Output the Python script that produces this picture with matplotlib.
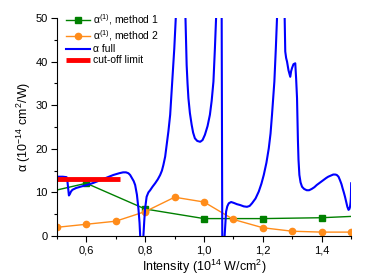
import numpy as np
import matplotlib
matplotlib.use("Agg")
import matplotlib.pyplot as plt
from matplotlib.ticker import MultipleLocator, FuncFormatter

plt.rcParams['font.family'] = ['Liberation Sans', 'DejaVu Sans']
plt.rcParams['mathtext.fontset'] = 'custom'
plt.rcParams['mathtext.rm'] = 'Liberation Sans'
plt.rcParams['mathtext.it'] = 'Liberation Sans:italic'

# method 1 (green squares)
m1_x = [0.4, 0.6, 0.8, 1.0, 1.2, 1.4, 1.6]
m1_y = [9.0, 12.1, 6.2, 4.0, 4.0, 4.2, 4.8]

# method 2 (orange circles)
m2_x = [0.5, 0.6, 0.7, 0.8, 0.9, 1.0, 1.1, 1.2, 1.3, 1.4, 1.5]
m2_y = [2.0, 2.7, 3.4, 5.6, 8.9, 7.8, 3.8, 1.9, 1.1, 0.9, 0.9]

# full alpha (blue); values beyond the axis run off-chart
full_x = [0.500, 0.520, 0.533, 0.536, 0.539, 0.541, 0.544, 0.548, 0.553, 0.565,
          0.580, 0.602, 0.625, 0.647, 0.670, 0.692, 0.712, 0.725, 0.735, 0.743,
          0.749, 0.755, 0.761, 0.766, 0.772, 0.777, 0.781, 0.783, 0.786,
          0.791, 0.794, 0.797, 0.800, 0.805, 0.811, 0.817, 0.825, 0.834, 0.843,
          0.851, 0.857, 0.862, 0.868, 0.873, 0.879, 0.885, 0.892, 0.899, 0.904,
          0.907,
          0.934, 0.937, 0.941, 0.944, 0.947, 0.952, 0.958, 0.963, 0.969, 0.977,
          0.987, 0.995, 1.003, 1.012, 1.020, 1.026, 1.032, 1.037, 1.041, 1.043,
          1.059, 1.060, 1.062, 1.064, 1.068, 1.070, 1.073, 1.075, 1.079, 1.084,
          1.092, 1.101, 1.112, 1.123, 1.135, 1.146, 1.155, 1.163, 1.175, 1.186,
          1.195, 1.203, 1.212, 1.220, 1.226, 1.231, 1.239, 1.244, 1.248, 1.250,
          1.273, 1.274, 1.276, 1.279, 1.282, 1.287, 1.293, 1.296, 1.299, 1.304,
          1.310, 1.313, 1.316, 1.319, 1.321, 1.324, 1.328, 1.333, 1.340, 1.349,
          1.357, 1.366, 1.375, 1.383, 1.395, 1.405, 1.415, 1.422, 1.432, 1.439,
          1.446, 1.451, 1.457, 1.462, 1.467, 1.471, 1.475, 1.479, 1.483, 1.487,
          1.491, 1.494, 1.496, 1.498, 1.499, 1.500]
full_y = [13.6, 13.6, 13.5, 12.5, 10.5, 9.3, 9.6, 10.2, 10.6, 11.0,
          11.3, 11.7, 12.2, 12.8, 13.4, 14.0, 14.4, 14.6, 14.6, 14.4,
          14.0, 13.3, 12.6, 11.7, 9.5, 6.4, 3.0, 0.2, -5.0,
          -5.0, 0.0, 3.5, 6.4, 9.0, 10.0, 10.5, 11.3, 12.1, 13.0,
          14.0, 15.0, 16.3, 18.2, 20.9, 24.0, 27.8, 35.4, 43.0, 49.9,
          60.0,
          60.0, 50.0, 39.2, 35.0, 31.6, 28.2, 25.5, 23.7, 22.4, 21.8,
          21.6, 22.0, 23.2, 25.2, 27.8, 31.0, 35.4, 43.0, 50.0, 60.0,
          60.0, 50.0, 0.0, -5.0, -5.0, 0.0, 3.5, 5.6, 6.8, 7.5,
          7.8, 7.6, 7.3, 7.1, 6.8, 6.7, 6.9, 7.5, 8.6, 10.2,
          12.0, 14.0, 16.8, 20.1, 23.5, 27.8, 35.4, 43.0, 50.0, 60.0,
          60.0, 50.0, 42.3, 40.8, 40.0, 38.0, 36.5, 37.8, 38.5, 39.4,
          39.6, 36.0, 31.6, 22.0, 17.5, 14.0, 12.3, 11.3, 10.8, 10.5,
          10.5, 10.8, 11.2, 11.7, 12.3, 12.8, 13.3, 13.6, 13.9, 14.1,
          14.1, 14.0, 13.6, 12.8, 11.9, 10.9, 10.0, 9.0, 7.8, 6.7,
          6.0, 6.2, 6.7, 7.8, 9.0, 12.1]

# cut-off limit (red)
cut_x = [0.5, 0.715]
cut_y = [13.0, 13.0]

fig = plt.figure(figsize=(3.74, 2.8), dpi=100)
ax = fig.add_axes([0.152, 0.157, 0.787, 0.779])

ax.plot(m1_x, m1_y, color='#008000', lw=1.0, marker='s', ms=4, label=r'α$^{(1)}$, method 1')
ax.plot(m2_x, m2_y, color='#ff8c1a', lw=1.0, marker='o', ms=4.5, label=r'α$^{(1)}$, method 2')
ax.plot(full_x, full_y, color='#0000ff', lw=1.5, solid_joinstyle='round', label='α full')
ax.plot(cut_x, cut_y, color='#ff0000', lw=3.5, label='cut-off limit', solid_capstyle='butt')

ax.set_xlim(0.5, 1.5)
ax.set_ylim(0, 50)
ax.spines['top'].set_visible(False)
ax.spines['right'].set_visible(False)
ax.xaxis.set_major_locator(MultipleLocator(0.2))
ax.xaxis.set_minor_locator(MultipleLocator(0.1))
ax.yaxis.set_major_locator(MultipleLocator(10))
ax.yaxis.set_minor_locator(MultipleLocator(5))
ax.xaxis.set_major_formatter(FuncFormatter(lambda v, p: f"{v:.1f}".replace('.', ',')))
ax.tick_params(which='major', length=4, width=0.8, labelsize=8, direction='out', pad=2.5)
ax.tick_params(which='minor', length=2.5, width=0.8, direction='out')

ax.set_xlabel(r'Intensity (10$^{14}$ W/cm$^{2}$)', fontsize=9, labelpad=2)
ax.set_ylabel(r'α (10$^{-14}$ cm$^{2}$/W)', fontsize=9, labelpad=2)

ax.legend(loc='upper left', bbox_to_anchor=(0.03, 1.025), frameon=False,
          fontsize=7.5, handlelength=2.3, handletextpad=0.3, labelspacing=0.1,
          borderaxespad=0, borderpad=0)

fig.savefig('out.png', dpi=100)
